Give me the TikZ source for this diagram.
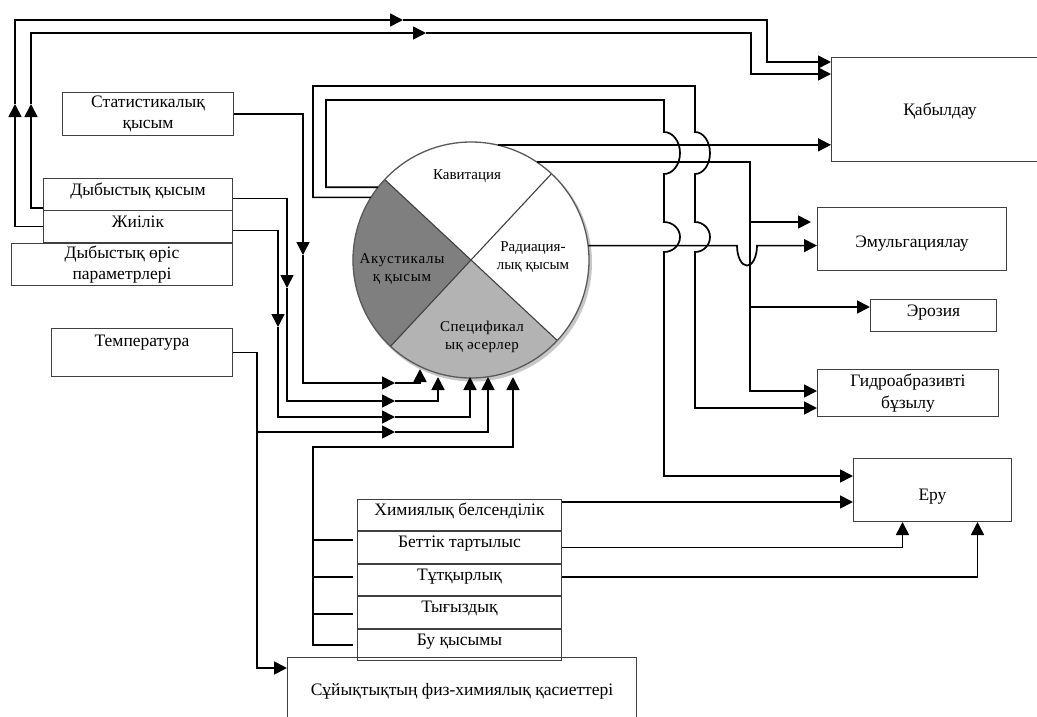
\documentclass[tikz,border=0pt]{standalone}
\usepackage{fontspec}
\setmainfont{Liberation Serif}
\usetikzlibrary{arrows.meta,calc}
\definecolor{acgray}{HTML}{7F7F7F}
\definecolor{spgray}{HTML}{B3B3B3}
\newcommand{\bxfont}{\fontsize{17.5}{21.5}\selectfont}
\newcommand{\cifont}{\fontsize{15}{18}\selectfont}
\begin{document}
\begin{tikzpicture}[x=1pt,y=-1pt,
  box/.style={draw=black!75, line width=1pt, inner sep=0pt, anchor=north west, font=\bxfont, align=center},
  con/.style={line width=1.7pt, black},
  arr/.style={con, -{Triangle[length=13pt,width=13pt]}},
  clab/.style={font=\cifont, align=center, inner sep=0pt}
]
\useasboundingbox (0,0) rectangle (1037,716);

% ---------- boxes ----------
\node[box, minimum width=171pt, minimum height=43pt] (stat) at (62,92) {Статистикалық\\қысым};
\node[box, minimum width=189pt, text height=17pt, text depth=15pt] (dq) at (43,178) {Дыбыстық қысым};
\node[box, minimum width=189pt, text height=17pt, text depth=15pt] (zh) at (43,210) {Жиілік};
\node[box, minimum width=221pt, minimum height=42pt] (dop) at (11,243) {Дыбыстық өріс\\параметрлері};
\node[box, minimum width=181pt, text height=18pt, text depth=30pt] (temp) at (51,328) {Температура};
\node[box, minimum width=217pt, text height=58pt, text depth=46pt] (kab) at (831,57) {Қабылдау};
\node[box, minimum width=189pt, text height=40pt, text depth=23pt] (emu) at (817,207) {Эмульгациялау};
\node[box, minimum width=126pt, text height=17pt, text depth=15pt] (ero) at (870,299) {Эрозия};
\node[box, minimum width=181pt, minimum height=47pt] (gid) at (817,369) {Гидроабразивті\\бұзылу};
\node[box, minimum width=158pt, text height=42pt, text depth=21pt] (eru) at (853,458) {Еру};
\node[box, minimum width=204pt, text height=16pt, text depth=15.4pt] (him) at (357,499) {Химиялық белсенділік};
\node[box, minimum width=204pt, text height=16pt, text depth=15.4pt] (bet) at (him.south west) {Беттік тартылыс};
\node[box, minimum width=204pt, text height=16pt, text depth=15.4pt] (tut) at (bet.south west) {Тұтқырлық};
\node[box, minimum width=204pt, text height=16pt, text depth=15.4pt] (tyg) at (tut.south west) {Тығыздық};
\node[box, minimum width=204pt, text height=16pt, text depth=15.4pt] (bu) at (tyg.south west) {Бу қысымы};
\node[box, minimum width=349pt, text height=38pt, text depth=40pt] (suy) at (287,657) {Сұйықтықтың физ-химиялық қасиеттері};

% ---------- circle ----------
\node[circle, minimum size=236pt, inner sep=0pt] (sph) at (471,260) {};
\fill[black!22] ([shift={(2pt,-2.5pt)}]sph.center) circle[radius=119pt];
\fill[white] (sph.center) -- (sph.317) arc[start angle=317, end angle=407, radius=118pt] -- cycle;
\fill[white] (sph.center) -- (sph.47) arc[start angle=47, end angle=137, radius=118pt] -- cycle;
\fill[acgray] (sph.center) -- (sph.137) arc[start angle=137, end angle=227, radius=118pt] -- cycle;
\fill[spgray] (sph.center) -- (sph.227) arc[start angle=227, end angle=317, radius=118pt] -- cycle;
\draw[line width=1.1pt, black!75] (sph.137) -- (sph.317) (sph.47) -- (sph.227);
\draw[line width=1.3pt, black!65] (sph.center) circle[radius=118pt];
\node[clab] (kav) at (467,176) {Кавитация};
\node[clab, font=\cifont\addfontfeatures{LetterSpace=5}] (aku) at (402,269) {Акустикалы\\қ қысым};
\node[clab] (rad) at (533,257) {Радиация-\\лық қысым};
\node[clab, font=\cifont\addfontfeatures{LetterSpace=3}] (spe) at (482,337) {Спецификал\\ық әсерлер};

% ---------- C1: Жиілік -> Қабылдау ----------
\coordinate (c1a) at (15,104);
\coordinate (c1b) at (403,20);
\coordinate (c1c) at (767,62);
\draw[arr] (zh.west) -| (c1a);
\draw[arr] (c1a) |- (c1b);
\draw[arr] (c1b) -| (c1c) -- (kab.west |- c1c);

% ---------- C2: Дыбыстық қысым -> Қабылдау ----------
\coordinate (c2s) at ([yshift=3pt]dq.south west);
\coordinate (c2a) at (31,104);
\coordinate (c2b) at (426,33);
\coordinate (c2c) at (751,74);
\draw[arr] (c2s) -| (c2a);
\draw[arr] (c2a) |- (c2b);
\draw[arr] (c2b) -| (c2c) -- (kab.west |- c2c);

% ---------- C3: Статистикалық -> circle ----------
\coordinate (c3a) at (303,255);
\coordinate (c3b) at (395,383);
\coordinate (c3c) at (420,369);
\draw[arr] (stat.east) -| (c3a);
\draw[arr] (c3a) |- (c3b);
\draw[arr] (c3b) -| (c3c);

% ---------- C4: Дыбыстық қысым -> circle ----------
\coordinate (c4a) at (287,288);
\coordinate (c4b) at (395,401);
\coordinate (c4c) at (438,377);
\draw[arr] ([yshift=-4pt]dq.east) -| (c4a);
\draw[arr] (c4a) |- (c4b);
\draw[arr] (c4b) -| (c4c);

% ---------- C5: Жиілік -> circle ----------
\coordinate (c5a) at (278,327);
\coordinate (c5b) at (395,417);
\coordinate (c5c) at (470,377);
\draw[arr] ([yshift=-4pt]zh.east) -| (c5a);
\draw[arr] (c5a) |- (c5b);
\draw[arr] (c5b) -| (c5c);

% ---------- C6: Температура -> circle, -> Сұйықтық ----------
\coordinate (c6j) at (257,432);
\coordinate (c6b) at (395,432);
\coordinate (c6c) at (488,377);
\draw[arr] (temp.east) -| (c6j) -- (c6b);
\draw[arr] (c6b) -| (c6c);
\draw[arr] (c6j) |- ([yshift=-11pt]suy.north west);

% ---------- C7: liquid properties -> circle ----------
\coordinate (c7a) at (313,447);
\coordinate (c7b) at (513,377);
\draw[arr] ([xshift=-4pt]bu.west) -| (c7a) -| (c7b);
\draw[con] ([xshift=-4pt,yshift=7.6pt]bet.west) -- ++(-40,0);
\draw[con] ([xshift=-4pt,yshift=3pt]tut.west) -- ++(-40,0);
\draw[con] ([xshift=-4pt,yshift=-1.6pt]tyg.west) -- ++(-40,0);

% ---------- C8: circle (outer loop) -> Гидроабразивті ----------
\coordinate (c8a) at (313,86);
\coordinate (c8b) at (695,86);
\coordinate (c8e) at (695,408);
\draw[arr] (sph.148) -| (c8a) -- (c8b) -- (695,132)
  arc[start angle=90, end angle=-90, x radius=15pt, y radius=21pt] -- (695,222)
  arc[start angle=90, end angle=-90, x radius=15pt, y radius=15pt] -- (c8e) -- (gid.west |- c8e);

% ---------- C9: circle (inner loop) -> Еру ----------
\coordinate (c9a) at (326,100);
\coordinate (c9b) at (664,100);
\coordinate (c9e) at (664,476);
\draw[arr] (sph.142) -| (c9a) -- (c9b) -- (664,132)
  arc[start angle=90, end angle=-90, x radius=16pt, y radius=21pt] -- (664,222)
  arc[start angle=90, end angle=-90, x radius=16pt, y radius=15pt] -- (c9e) -- (eru.west |- c9e);

% ---------- C10: circle -> Қабылдау ----------
\draw[arr] (sph.77) -- (kab.west |- sph.77);

% ---------- C11: circle -> Эмульгациялау, Эрозия, Гидроабразивті ----------
\coordinate (c11e) at (750,391);
\coordinate (c11b) at (750,222);
\coordinate (c11c) at (750,307);
\draw[arr] (sph.56) -| (c11e) -- (gid.west |- c11e);
\draw[arr, shorten >=6pt] (c11b) -- (emu.west |- c11b);
\draw[arr] (c11c) -- (ero.west |- c11c);

% ---------- C12: Радиация -> Эмульгациялау ----------
\coordinate (c12a) at (737,245.6);
\draw[arr] (sph.7) -- (c12a)
  arc[start angle=180, end angle=360, x radius=10pt, y radius=20pt] -- (emu.west |- sph.7);

% ---------- C13-15: liquid properties -> Еру ----------
\coordinate (c13s) at ([yshift=-3pt]him.north east);
\draw[arr] (c13s) -- (eru.west |- c13s);
\draw[arr] (bet.east) -| ([xshift=-30pt]eru.south);
\draw[arr] ([yshift=3pt]tut.east) -| ([xshift=45pt]eru.south);
\end{tikzpicture}
\end{document}
